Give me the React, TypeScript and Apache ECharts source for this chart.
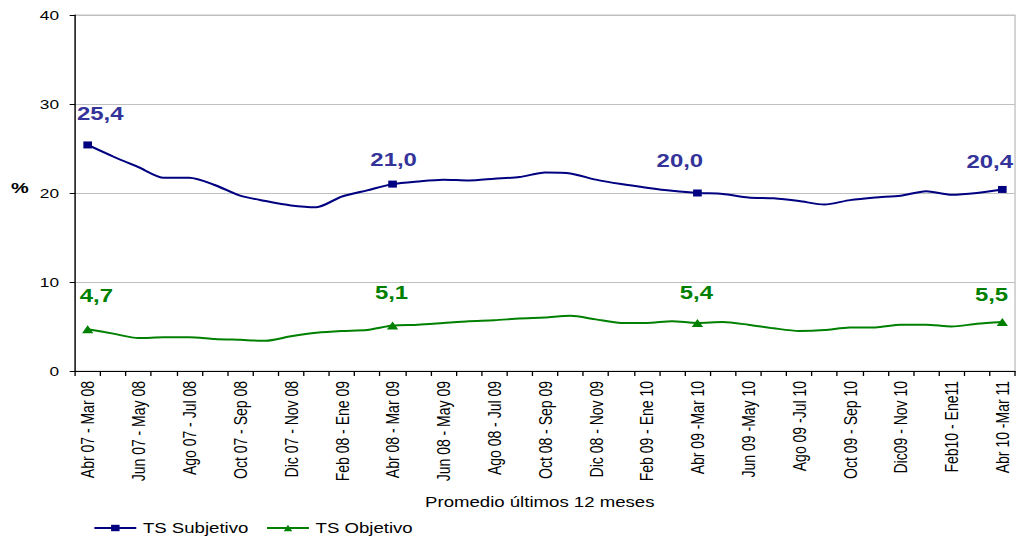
import { useEffect, useRef } from "react";
import * as echarts from "echarts";

const categories = [
  "Abr 07 - Mar 08", "May 07 - Abr 08", "Jun 07 - May 08", "Jul 07 - Jun 08",
  "Ago 07 - Jul 08", "Sep 07 - Ago 08", "Oct 07 - Sep 08", "Nov 07 - Oct 08",
  "Dic 07 - Nov 08", "Ene 08 - Dic 08", "Feb 08 - Ene 09", "Mar 08 - Feb 09",
  "Abr 08 - Mar 09", "May 08 - Abr 09", "Jun 08 - May 09", "Jul 08 - Jun 09",
  "Ago 08 - Jul 09", "Sep 08 - Ago 09", "Oct 08 - Sep 09", "Nov 08 - Oct 09",
  "Dic 08 - Nov 09", "Ene 09 - Dic 09", "Feb 09 - Ene 10", "Mar 09 - Feb 10",
  "Abr 09 -Mar 10", "May 09 -Abr 10", "Jun 09 -May 10", "Jul 09 -Jun 10",
  "Ago 09 -Jul 10", "Sep 09 - Ago 10", "Oct 09 - Sep 10", "Nov 09 - Oct 10",
  "Dic09 - Nov 10", "Ene10 - Dic 10", "Feb10 - Ene11", "Mar 10 - Feb11",
  "Abr 10 -Mar 11",
];

const subjetivo = [
  25.4, 24.1, 22.9, 21.7, 21.7, 20.9, 19.7, 19.1, 18.6, 18.4, 19.6, 20.3,
  21.0, 21.3, 21.5, 21.4, 21.6, 21.8, 22.3, 22.2, 21.5, 21.0, 20.6, 20.25,
  20.0, 19.9, 19.5, 19.4, 19.1, 18.7, 19.2, 19.5, 19.7, 20.2, 19.8, 20.0,
  20.4,
];

const objetivo = [
  4.7, 4.2, 3.7, 3.8, 3.8, 3.6, 3.5, 3.4, 3.9, 4.3, 4.5, 4.6,
  5.1, 5.2, 5.4, 5.6, 5.7, 5.9, 6.0, 6.2, 5.8, 5.4, 5.4, 5.6,
  5.4, 5.5, 5.2, 4.8, 4.5, 4.6, 4.9, 4.9, 5.2, 5.2, 5.0, 5.3,
  5.5,
];

const labeledIdx = [0, 12, 24, 36];
const seriesNames = ["TS Subjetivo", "TS Objetivo"];
const yMin = 0;
const yMax = 40;
const yStep = 10;
const xTitle = "Promedio últimos 12 meses";
const yTitle = "%";

const W = 1021;
const H = 540;
const INNER_W = 768;
const SX = W / INNER_W;
const FONT = "'Liberation Sans', Arial, sans-serif";

const subOffsets = [[9.4, -31], [0.8, -24], [-13.2, -32], [-9.5, -28]];
const objOffsets = [[6.5, -34], [-0.8, -33], [-0.8, -30], [-8.1, -27]];

const fmt = (v: number) => v.toFixed(1).replace(".", ",");

function buildData(
  vals: number[],
  offsets: number[][],
  symbol: string,
  size: number[],
  labelColor: string
) {
  return vals.map((v, i) => {
    const k = labeledIdx.indexOf(i);
    if (k < 0) return { value: v, symbol: "none" };
    return {
      value: v,
      symbol,
      symbolSize: size,
      label: {
        show: true,
        position: "inside",
        offset: offsets[k],
        formatter: () => fmt(v),
        color: labelColor,
        fontFamily: FONT,
        fontWeight: "bold",
        fontSize: 18,
      },
    };
  });
}

export default function App() {
  const ref = useRef<HTMLDivElement>(null);

  useEffect(() => {
    document.body.style.margin = "0";
    if (!ref.current) return;
    const chart = echarts.init(ref.current, null, {
      renderer: "svg",
      width: INNER_W,
      height: H,
    });
    const option: any = {
      animation: false,
      backgroundColor: "#ffffff",
      textStyle: { fontFamily: FONT },
      grid: {
        left: 56.4,
        right: 4.5,
        top: 15,
        bottom: 169,
        show: true,
        borderColor: "#c0c0c0",
        borderWidth: 1,
        containLabel: false,
      },
      legend: {
        left: 65,
        top: 516,
        padding: 5,
        itemWidth: 31.5,
        itemHeight: 8,
        itemGap: 13,
        textStyle: { fontFamily: FONT, fontSize: 14, color: "#000" },
        data: seriesNames,
      },
      xAxis: {
        type: "category",
        data: categories,
        boundaryGap: true,
        axisLine: { lineStyle: { color: "#000", width: 1 } },
        axisTick: { show: true, interval: 0, length: 5, lineStyle: { color: "#000" } },
        axisLabel: {
          interval: 1,
          rotate: 90,
          fontSize: 14,
          color: "#000",
          fontFamily: FONT,
          margin: 10,
        },
        splitLine: { show: false },
      },
      yAxis: {
        type: "value",
        min: yMin,
        max: yMax,
        interval: yStep,
        axisLine: { show: true, lineStyle: { color: "#000", width: 1 } },
        axisTick: { show: true, length: 4, lineStyle: { color: "#000" } },
        axisLabel: { fontSize: 13, color: "#000", fontFamily: FONT, margin: 12 },
        splitLine: { lineStyle: { color: "#c0c0c0", width: 1 } },
      },
      graphic: [
        {
          type: "text",
          x: 406,
          y: 502,
          style: {
            text: xTitle,
            fontFamily: FONT,
            fontSize: 14,
            fill: "#000",
            align: "center",
            verticalAlign: "middle",
          },
        },
        {
          type: "text",
          x: 15,
          y: 188,
          style: {
            text: yTitle,
            fontFamily: FONT,
            fontSize: 15,
            fontWeight: "bold",
            fill: "#000",
            align: "center",
            verticalAlign: "middle",
          },
        },
      ],
      series: [
        {
          name: seriesNames[0],
          type: "line",
          smooth: 0.25,
          symbol: "rect",
          symbolSize: [6.5, 7],
          color: "#000080",
          lineStyle: { color: "#000080", width: 2 },
          itemStyle: { color: "#000080" },
          data: buildData(subjetivo, subOffsets, "rect", [6.5, 7], "#333399"),
        },
        {
          name: seriesNames[1],
          type: "line",
          smooth: 0.25,
          symbol: "triangle",
          symbolSize: [8.5, 8],
          color: "#008000",
          lineStyle: { color: "#008000", width: 2 },
          itemStyle: { color: "#008000" },
          data: buildData(objetivo, objOffsets, "triangle", [8.5, 8], "#008000"),
        },
      ],
    };
    chart.setOption(option);
    return () => chart.dispose();
  }, []);

  return (
    <div
      ref={ref}
      style={{
        width: INNER_W,
        height: H,
        transform: `scaleX(${SX})`,
        transformOrigin: "0 0",
      }}
    />
  );
}
